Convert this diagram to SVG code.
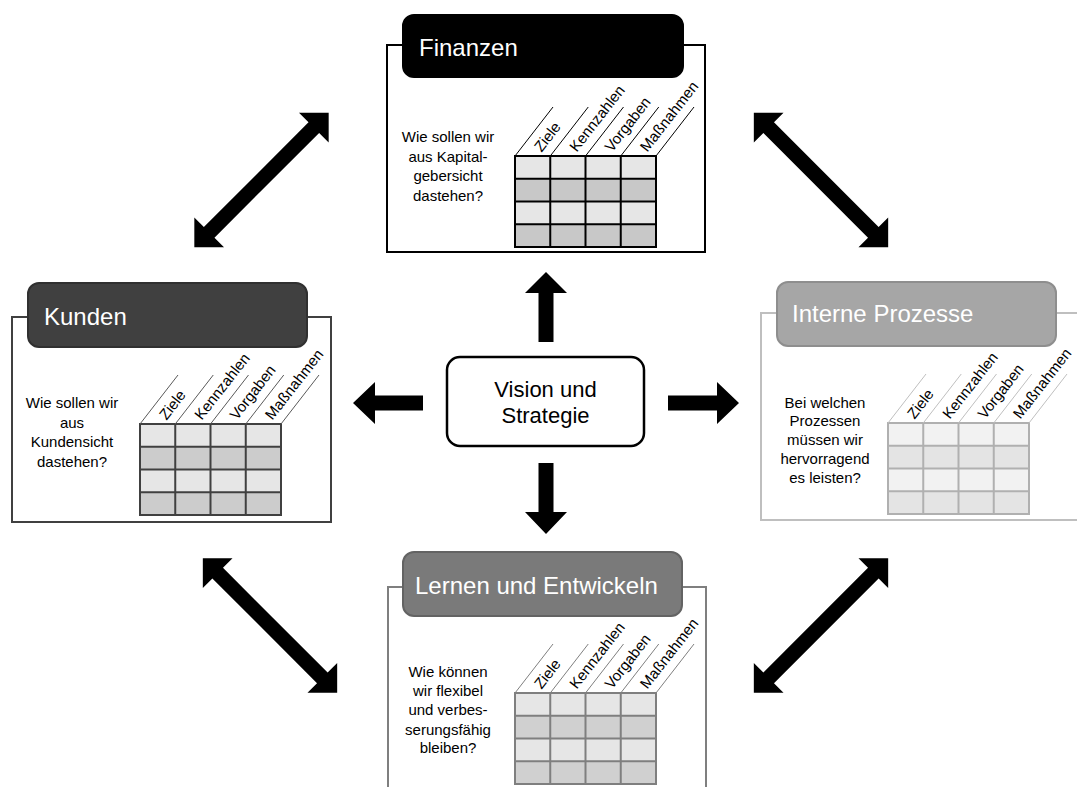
<svg xmlns="http://www.w3.org/2000/svg" xmlns:xlink="http://www.w3.org/1999/xlink" width="1077" height="787" viewBox="0 0 1077 787">
<style>
text{font-family:"Liberation Sans",Arial,sans-serif}
.hdr{font-size:24px;fill:#ffffff}
.q{font-size:15px;fill:#000;text-anchor:middle}
.lbl{font-size:15px;fill:#000}
.frame{fill:none;stroke-width:2}
.grid{fill:none;stroke-width:2}
.diag{fill:none;stroke-width:1}
.arrow{fill:#000}
.p1 .frame,.p1 .grid,.p1 .diag{stroke:#000}
.p1 .head{fill:#000;stroke:#000}
.p1 .lt{fill:#e6e6e6}.p1 .dk{fill:#c8c8c8}
.p2 .frame,.p2 .grid{stroke:#404040}.p2 .diag{stroke:#595959}
.p2 .head{fill:#404040;stroke:#303030}
.p2 .lt{fill:#e6e6e6}.p2 .dk{fill:#cccccc}
.p3 .frame{stroke:#bfbfbf}.p3 .grid{stroke:#b0b0b0}.p3 .diag{stroke:#bfbfbf}
.p3 .head{fill:#a6a6a6;stroke:#8e8e8e}
.p3 .lt{fill:#f2f2f2}.p3 .dk{fill:#e4e4e4}
.p4 .frame,.p4 .grid,.p4 .diag{stroke:#7f7f7f}
.p4 .head{fill:#7a7a7a;stroke:#636363}
.p4 .lt{fill:#e6e6e6}.p4 .dk{fill:#d0d0d0}
.head{stroke-width:2}
.center{fill:#fff;stroke:#000;stroke-width:2.5}
.ct{font-size:22px;fill:#000;text-anchor:middle}
</style>
<defs>
<polygon id="dbl" points="-95,0 -74,-21 -74,-7.5 74,-7.5 74,-21 95,0 74,21 74,7.5 -74,7.5 -74,21"/>
</defs>

<g id="connectors">
<polygon class="arrow" points="538.5,342 538.5,293 525,293 546,272 567,293 553.5,293 553.5,342"/>
<polygon class="arrow" points="538.5,463 538.5,512 525,512 546,534 567,512 553.5,512 553.5,463"/>
<polygon class="arrow" points="423,395.5 375,395.5 375,382 353,403 375,424 375,410.5 423,410.5"/>
<polygon class="arrow" points="668,395.5 717,395.5 717,382 739,403 717,424 717,410.5 668,410.5"/>
<use href="#dbl" class="arrow" transform="translate(261.5,180) rotate(-45)"/>
<use href="#dbl" class="arrow" transform="translate(821,180) rotate(45)"/>
<use href="#dbl" class="arrow" transform="translate(270,625.5) rotate(45)"/>
<use href="#dbl" class="arrow" transform="translate(821,625.5) rotate(-45)"/>
</g>

<g id="vision">
<rect class="center" x="447" y="357" width="197" height="89" rx="13"/>
<text class="ct" x="545.5" y="397">Vision und</text>
<text class="ct" x="545.5" y="423">Strategie</text>
</g>

<g id="finanzen" class="p1">
<rect class="frame" x="387" y="45" width="318" height="207"/>
<rect class="head" x="403" y="15" width="280" height="62" rx="11"/>
<text class="hdr" x="419" y="56">Finanzen</text>
<text class="q" x="448" y="142">Wie sollen wir</text>
<text class="q" x="448" y="161.5">aus Kapital-</text>
<text class="q" x="448" y="181">gebersicht</text>
<text class="q" x="448" y="200.5">dastehen?</text>
<g transform="translate(515,156)">
<rect class="lt" width="141" height="22.75"/>
<rect class="dk" y="22.75" width="141" height="22.75"/>
<rect class="lt" y="45.5" width="141" height="22.75"/>
<rect class="dk" y="68.25" width="141" height="22.75"/>
<path class="grid" d="M0 0H141V91H0Z M0 22.75H141 M0 45.5H141 M0 68.25H141 M35.25 0V91 M70.5 0V91 M105.75 0V91"/>
<path class="diag" d="M0 0l38-49 M35.25 0l38-49 M70.5 0l38-49 M105.75 0l38-49 M141 0l38-49"/>
<text class="lbl" transform="translate(17.6,0) rotate(-52)" x="8" y="5">Ziele</text>
<text class="lbl" transform="translate(52.9,0) rotate(-52)" x="8" y="5">Kennzahlen</text>
<text class="lbl" transform="translate(88.1,0) rotate(-52)" x="8" y="5">Vorgaben</text>
<text class="lbl" transform="translate(123.4,0) rotate(-52)" x="8" y="5">Maßnahmen</text>
</g>
</g>

<g id="kunden" class="p2">
<rect class="frame" x="12" y="317" width="319" height="205"/>
<rect class="head" x="28" y="283" width="279" height="64" rx="11"/>
<text class="hdr" x="44" y="325">Kunden</text>
<text class="q" x="72" y="408">Wie sollen wir</text>
<text class="q" x="72" y="427.5">aus</text>
<text class="q" x="72" y="447">Kundensicht</text>
<text class="q" x="72" y="466.5">dastehen?</text>
<g transform="translate(140,424)">
<rect class="lt" width="141" height="22.75"/>
<rect class="dk" y="22.75" width="141" height="22.75"/>
<rect class="lt" y="45.5" width="141" height="22.75"/>
<rect class="dk" y="68.25" width="141" height="22.75"/>
<path class="grid" d="M0 0H141V91H0Z M0 22.75H141 M0 45.5H141 M0 68.25H141 M35.25 0V91 M70.5 0V91 M105.75 0V91"/>
<path class="diag" d="M0 0l38-49 M35.25 0l38-49 M70.5 0l38-49 M105.75 0l38-49 M141 0l38-49"/>
<text class="lbl" transform="translate(17.6,0) rotate(-52)" x="8" y="5">Ziele</text>
<text class="lbl" transform="translate(52.9,0) rotate(-52)" x="8" y="5">Kennzahlen</text>
<text class="lbl" transform="translate(88.1,0) rotate(-52)" x="8" y="5">Vorgaben</text>
<text class="lbl" transform="translate(123.4,0) rotate(-52)" x="8" y="5">Maßnahmen</text>
</g>
</g>

<g id="interne-prozesse" class="p3">
<rect class="frame" x="761" y="313" width="330" height="207"/>
<rect class="head" x="777" y="282" width="279" height="64" rx="11"/>
<text class="hdr" x="792" y="322">Interne Prozesse</text>
<text class="q" x="825" y="407.5">Bei welchen</text>
<text class="q" x="825" y="426.3">Prozessen</text>
<text class="q" x="825" y="445">müssen wir</text>
<text class="q" x="825" y="463.8">hervorragend</text>
<text class="q" x="825" y="482.5">es leisten?</text>
<g transform="translate(888,423)">
<rect class="lt" width="141" height="22.75"/>
<rect class="dk" y="22.75" width="141" height="22.75"/>
<rect class="lt" y="45.5" width="141" height="22.75"/>
<rect class="dk" y="68.25" width="141" height="22.75"/>
<path class="grid" d="M0 0H141V91H0Z M0 22.75H141 M0 45.5H141 M0 68.25H141 M35.25 0V91 M70.5 0V91 M105.75 0V91"/>
<path class="diag" d="M0 0l38-49 M35.25 0l38-49 M70.5 0l38-49 M105.75 0l38-49 M141 0l38-49"/>
<text class="lbl" transform="translate(17.6,0) rotate(-52)" x="8" y="5">Ziele</text>
<text class="lbl" transform="translate(52.9,0) rotate(-52)" x="8" y="5">Kennzahlen</text>
<text class="lbl" transform="translate(88.1,0) rotate(-52)" x="8" y="5">Vorgaben</text>
<text class="lbl" transform="translate(123.4,0) rotate(-52)" x="8" y="5">Maßnahmen</text>
</g>
</g>

<g id="lernen-und-entwickeln" class="p4">
<rect class="frame" x="388" y="587" width="318" height="220"/>
<rect class="head" x="403" y="552" width="279" height="64" rx="11"/>
<text class="hdr" x="415" y="594">Lernen und Entwickeln</text>
<text class="q" x="448" y="677">Wie können</text>
<text class="q" x="448" y="696">wir flexibel</text>
<text class="q" x="448" y="715">und verbes-</text>
<text class="q" x="448" y="734.5">serungsfähig</text>
<text class="q" x="448" y="753">bleiben?</text>
<g transform="translate(515,693)">
<rect class="lt" width="141" height="22.75"/>
<rect class="dk" y="22.75" width="141" height="22.75"/>
<rect class="lt" y="45.5" width="141" height="22.75"/>
<rect class="dk" y="68.25" width="141" height="22.75"/>
<path class="grid" d="M0 0H141V91H0Z M0 22.75H141 M0 45.5H141 M0 68.25H141 M35.25 0V91 M70.5 0V91 M105.75 0V91"/>
<path class="diag" d="M0 0l38-49 M35.25 0l38-49 M70.5 0l38-49 M105.75 0l38-49 M141 0l38-49"/>
<text class="lbl" transform="translate(17.6,0) rotate(-52)" x="8" y="5">Ziele</text>
<text class="lbl" transform="translate(52.9,0) rotate(-52)" x="8" y="5">Kennzahlen</text>
<text class="lbl" transform="translate(88.1,0) rotate(-52)" x="8" y="5">Vorgaben</text>
<text class="lbl" transform="translate(123.4,0) rotate(-52)" x="8" y="5">Maßnahmen</text>
</g>
</g>
</svg>
